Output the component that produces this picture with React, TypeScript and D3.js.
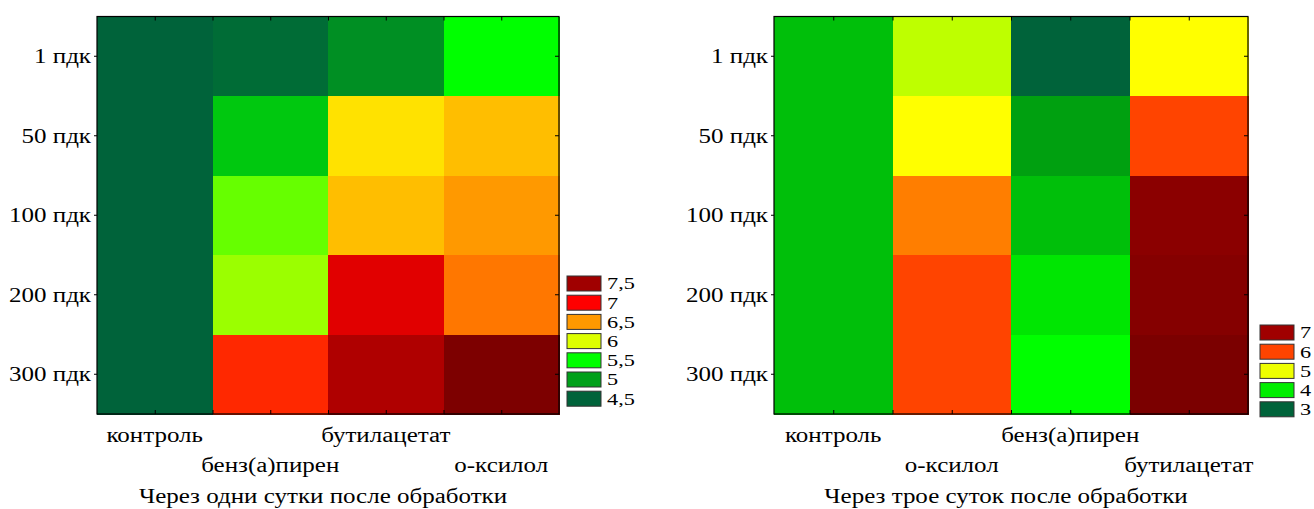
import React, { useEffect, useRef } from "react";
import * as d3 from "d3";

// ---------- data ----------
const doses = ["1 пдк", "50 пдк", "100 пдк", "200 пдк", "300 пдк"];

const day1Categories = ["контроль", "бенз(а)пирен", "бутилацетат", "о-ксилол"];
const day1Control = [4.5, 4.5, 4.5, 4.5, 4.5];
const day1Benzpyrene = [4.57, 5.21, 5.73, 5.85, 6.87];
const day1Butylacetate = [4.86, 6.32, 6.41, 7.16, 7.42];
const day1Xylene = [5.5, 6.41, 6.5, 6.61, 7.86];
const day1Levels = [7.5, 7, 6.5, 6, 5.5, 5, 4.5];
const day1LevelLabels = ["7,5", "7", "6,5", "6", "5,5", "5", "4,5"];
const day1Title = "Через одни сутки после обработки";

const day3Categories = ["контроль", "о-ксилол", "бенз(а)пирен", "бутилацетат"];
const day3Control = [3.7, 3.7, 3.7, 3.7, 3.7];
const day3Xylene = [4.85, 5.25, 5.83, 6.0, 6.0];
const day3Benzpyrene = [3.0, 3.5, 3.7, 3.95, 4.25];
const day3Butylacetate = [5.25, 6.0, 7.22, 7.28, 7.39];
const day3Levels = [7, 6, 5, 4, 3];
const day3LevelLabels = ["7", "6", "5", "4", "3"];
const day3Title = "Через трое суток после обработки";

// ---------- palettes (style) ----------
const day1StopValues = [4.5, 5, 5.5, 6, 6.25, 6.5, 7, 7.5, 8];
const day1StopColors = ["#00633a", "#00a01a", "#00ff00", "#ddff00", "#ffff00", "#ff9900", "#ff0000", "#a00000", "#700000"];
const day3StopValues = [3, 3.5, 4, 4.25, 5, 5.25, 5.75, 6, 6.5, 7, 7.5];
const day3StopColors = ["#00633a", "#00a010", "#00ee00", "#00ff00", "#eeff00", "#ffff00", "#ff9900", "#ff4400", "#ff0000", "#a00000", "#700000"];

const FONT = "'Liberation Serif', 'Times New Roman', serif";
const FS = 20;
const LEGEND_FS = 16.5;
const STRETCH = 1.25;

type Panel = {
  categories: string[];
  series: number[][];
  levels: number[];
  levelLabels: string[];
  title: string;
  stopValues: number[];
  stopColors: string[];
  x0: number;
  x1: number;
  y0: number;
  y1: number;
  legendX: number;
  legendY: number;
};

const tr = (x: number, y: number, s = STRETCH) => `translate(${x},${y}) scale(${s},1)`;

function drawPanel(svg: d3.Selection<SVGSVGElement, unknown, null, undefined>, p: Panel) {
  const g = svg.append("g");
  const x = d3.scaleBand<string>().domain(p.categories).range([p.x0, p.x1]).padding(0);
  const y = d3.scaleBand<string>().domain(doses).range([p.y0, p.y1]).padding(0);
  const color = d3
    .scaleLinear<string>()
    .domain(p.stopValues)
    .range(p.stopColors)
    .interpolate(d3.interpolateRgb)
    .clamp(true);

  const cells: { c: string; d: string; v: number }[] = [];
  p.categories.forEach((c, ci) => {
    doses.forEach((d, di) => cells.push({ c, d, v: p.series[ci][di] }));
  });

  g.selectAll("rect.cell")
    .data(cells)
    .join("rect")
    .attr("class", "cell")
    .attr("x", (d) => x(d.c)!)
    .attr("y", (d) => y(d.d)!)
    .attr("width", x.bandwidth() + 0.5)
    .attr("height", y.bandwidth() + 0.5)
    .attr("fill", (d) => color(d.v))
    .attr("shape-rendering", "crispEdges");

  const half = d3.scaleLinear().domain([0, p.categories.length * 2]).range([p.x0, p.x1]);
  const halfTicks = d3.range(1, p.categories.length * 2);

  const top = g
    .append("g")
    .attr("transform", `translate(0,${p.y0})`)
    .call(d3.axisBottom(half).tickValues(halfTicks).tickSize(4).tickFormat(() => ""));
  const bottom = g
    .append("g")
    .attr("transform", `translate(0,${p.y1})`)
    .call(d3.axisTop(half).tickValues(halfTicks).tickSize(4).tickFormat(() => ""));
  const left = g
    .append("g")
    .attr("transform", `translate(${p.x0},0)`)
    .call(d3.axisLeft(y).tickSize(3).tickFormat(() => ""));
  const right = g
    .append("g")
    .attr("transform", `translate(${p.x1},0)`)
    .call(d3.axisLeft(y).tickSize(4).tickFormat(() => ""));
  [top, bottom, left, right].forEach((a) => {
    a.select(".domain").remove();
    a.selectAll("line").attr("stroke", "#000").attr("stroke-width", 1);
  });

  g.append("rect")
    .attr("x", p.x0)
    .attr("y", p.y0)
    .attr("width", p.x1 - p.x0)
    .attr("height", p.y1 - p.y0)
    .attr("fill", "none")
    .attr("stroke", "#000")
    .attr("stroke-width", 1.2);

  // y labels
  g.selectAll("text.ylab")
    .data(doses)
    .join("text")
    .attr("class", "ylab")
    .attr("transform", (d) => tr(p.x0 - 6, y(d)! + y.bandwidth() / 2))
    .attr("dy", "0.35em")
    .attr("text-anchor", "end")
    .attr("font-family", FONT)
    .attr("font-size", FS)
    .text((d) => d);

  // x labels, staggered
  g.selectAll("text.xlab")
    .data(p.categories)
    .join("text")
    .attr("class", "xlab")
    .attr("transform", (d, i) => tr(x(d)! + x.bandwidth() / 2, i % 2 === 0 ? 442 : 472))
    .attr("text-anchor", "middle")
    .attr("font-family", FONT)
    .attr("font-size", FS)
    .text((d) => d);

  g.append("text")
    .attr("transform", tr((p.x0 + p.x1) / 2 - 5, 503))
    .attr("text-anchor", "middle")
    .attr("font-family", FONT)
    .attr("font-size", FS)
    .text(p.title);

  // legend
  const ly = d3
    .scaleBand<string>()
    .domain(p.levels.map(String))
    .range([p.legendY, p.legendY + p.levels.length * 19.2]);
  const lg = g.append("g");
  lg.selectAll("rect")
    .data(p.levels)
    .join("rect")
    .attr("x", p.legendX)
    .attr("y", (d) => ly(String(d))! + 2)
    .attr("width", 34)
    .attr("height", 15)
    .attr("fill", (d) => color(d))
    .attr("stroke", "#333")
    .attr("stroke-width", 1);
  lg.selectAll("text")
    .data(p.levels)
    .join("text")
    .attr("transform", (d) => tr(p.legendX + 40, ly(String(d))! + ly.bandwidth() / 2, 1.35))
    .attr("dy", "0.35em")
    .attr("font-family", FONT)
    .attr("font-size", LEGEND_FS)
    .text((_d, i) => p.levelLabels[i]);
}

export default function App() {
  const ref = useRef<SVGSVGElement>(null);
  useEffect(() => {
    const svg = d3.select(ref.current!);
    svg.selectAll("*").remove();
    drawPanel(svg, {
      categories: day1Categories,
      series: [day1Control, day1Benzpyrene, day1Butylacetate, day1Xylene],
      levels: day1Levels,
      levelLabels: day1LevelLabels,
      title: day1Title,
      stopValues: day1StopValues,
      stopColors: day1StopColors,
      x0: 97,
      x1: 559,
      y0: 16.5,
      y1: 414,
      legendX: 567,
      legendY: 274,
    });
    drawPanel(svg, {
      categories: day3Categories,
      series: [day3Control, day3Xylene, day3Benzpyrene, day3Butylacetate],
      levels: day3Levels,
      levelLabels: day3LevelLabels,
      title: day3Title,
      stopValues: day3StopValues,
      stopColors: day3StopColors,
      x0: 774,
      x1: 1248,
      y0: 16.5,
      y1: 414,
      legendX: 1260,
      legendY: 323,
    });
  }, []);
  return (
    <svg
      ref={ref}
      width={1314}
      height={509}
      style={{ position: "absolute", left: 0, top: 0, background: "#fff" }}
    />
  );
}
